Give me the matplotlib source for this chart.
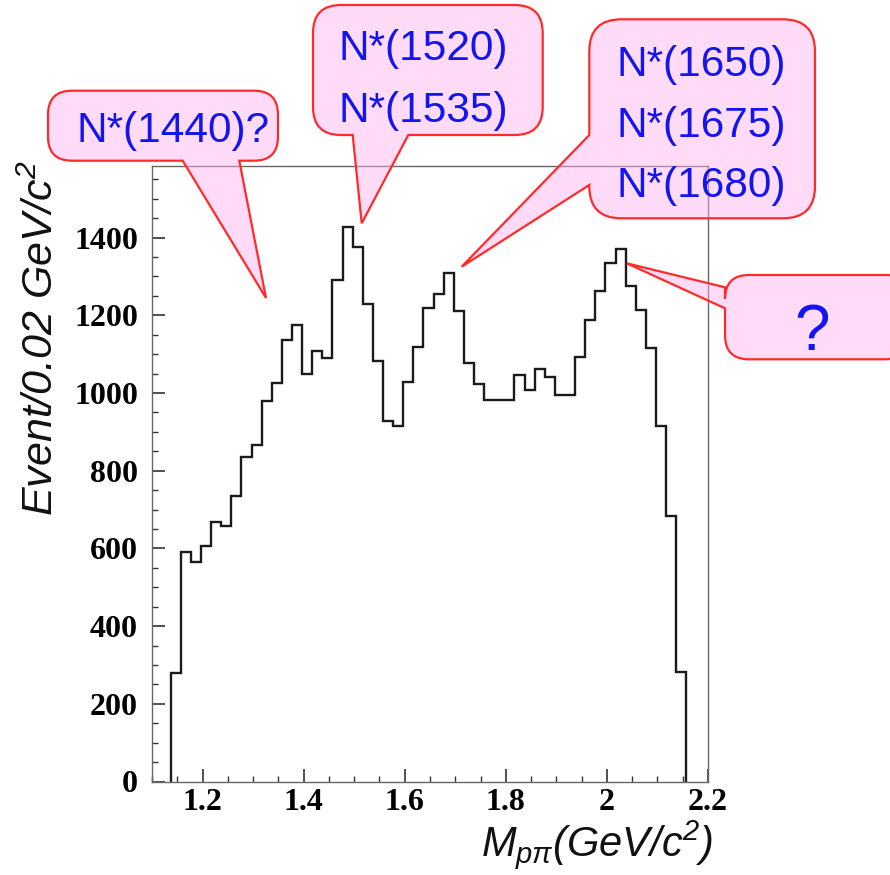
import numpy as np
import matplotlib
matplotlib.use("Agg")
import matplotlib.pyplot as plt
from matplotlib.path import Path
from matplotlib.patches import PathPatch
from matplotlib.ticker import MultipleLocator, FixedLocator, FixedFormatter

# ---- data -------------------------------------------------------------
bin_low = 1.137
bin_width = 0.02
counts = [278, 591, 565, 607, 669, 658, 736, 834, 865, 979,
          1026, 1137, 1174, 1050, 1107, 1091, 1292, 1427, 1375, 1230,
          1082, 928, 916, 1029, 1118, 1220, 1255, 1309, 1211, 1077,
          1023, 982, 982, 982, 1046, 1008, 1061, 1042, 995, 995,
          1093, 1187, 1263, 1335, 1371, 1276, 1214, 1117, 916, 684, 282]

x_ticks = [1.2, 1.4, 1.6, 1.8, 2.0, 2.2]
x_tick_labels = ["1.2", "1.4", "1.6", "1.8", "2", "2.2"]
y_ticks = [0, 200, 400, 600, 800, 1000, 1200, 1400]
y_tick_labels = ["0", "200", "400", "600", "800", "1000", "1200", "1400"]

callout_texts = [
    ["N*(1440)?"],
    ["N*(1520)", "N*(1535)"],
    ["N*(1650)", "N*(1675)", "N*(1680)"],
    ["?"],
]

# ---- figure -----------------------------------------------------------
W, H = 890, 875
plt.rcParams["mathtext.fontset"] = "custom"
plt.rcParams["mathtext.it"] = "Liberation Sans:italic"
plt.rcParams["mathtext.rm"] = "Liberation Sans:italic"
plt.rcParams["mathtext.default"] = "it"

fig = plt.figure(figsize=(W / 100, H / 100), dpi=100)
ax = fig.add_axes([152 / W, 1 - 781.5 / H, (708 - 152) / W, (781.5 - 165.7) / H])

edges = bin_low + bin_width * np.arange(len(counts) + 1)
ax.stairs(counts, edges, baseline=0, color="#1a1a1a", linewidth=1.7)

ax.set_xlim(1.1, 2.2)
ax.set_ylim(0, 1585)

for s in ax.spines.values():
    s.set_color("#666666")
    s.set_linewidth(1.0)

tick_font = dict(family="Liberation Serif", weight="bold", size=23)
ax.xaxis.set_major_locator(FixedLocator(x_ticks))
ax.xaxis.set_major_formatter(FixedFormatter(x_tick_labels))
ax.xaxis.set_minor_locator(MultipleLocator(0.05))
ax.yaxis.set_major_locator(FixedLocator(y_ticks))
ax.yaxis.set_major_formatter(FixedFormatter(y_tick_labels))
ax.yaxis.set_minor_locator(MultipleLocator(50))
ax.tick_params(which="both", direction="in", top=False, right=False,
               color="#333333")
ax.tick_params(which="major", length=9.5, width=1.2)
ax.tick_params(which="minor", length=4.5, width=1.0)
ax.tick_params(axis="x", which="major", pad=4.5)
ax.tick_params(axis="y", which="major", pad=10)
for lab in ax.get_xticklabels() + ax.get_yticklabels():
    lab.set_fontfamily(tick_font["family"])
    lab.set_fontweight(tick_font["weight"])
    lab.set_fontsize(tick_font["size"])

# axis titles
label_font = dict(family="Liberation Sans", style="italic", color="#111111")
fig.text(713 / W, 1 - 856 / H, r"$M_{p\pi}$(GeV/c$^{2}$)", ha="right",
         va="baseline", size=30, **label_font)
fig.text(42 / W, 1 - 160 / H, r"Event/0.02 GeV/c$^{2}$", rotation=90,
         ha="center", va="top", size=31, **label_font)


# ---- speech-bubble annotations (pixel geometry, y measured downwards) --
def bubble_path(x0, y0, x1, y1, r, side, base, tip):
    verts, codes = [], []

    def add(p, c):
        verts.append(p)
        codes.append(c)

    def corner(c, p):
        add(c, Path.CURVE3)
        add(p, Path.CURVE3)

    add((x0 + r, y0), Path.MOVETO)
    add((x1 - r, y0), Path.LINETO)
    corner((x1, y0), (x1, y0 + r))
    add((x1, y1 - r), Path.LINETO)
    corner((x1, y1), (x1 - r, y1))
    if side == "bottom":
        b1, b2 = base
        add((b2, y1), Path.LINETO)
        add(tip, Path.LINETO)
        add((b1, y1), Path.LINETO)
    add((x0 + r, y1), Path.LINETO)
    corner((x0, y1), (x0, y1 - r))
    if side == "left":
        a1, a2 = base
        add((x0, a2), Path.LINETO)
        add(tip, Path.LINETO)
        add((x0, a1), Path.LINETO)
    add((x0, y0 + r), Path.LINETO)
    corner((x0, y0), (x0 + r, y0))
    add((x0 + r, y0), Path.CLOSEPOLY)
    verts = [(x / W, 1 - y / H) for x, y in verts]
    return Path(verts, codes)


bubbles = [
    dict(box=(48, 90.7, 278, 160.7), r=24, side="bottom",
         base=(182.7, 239.3), tip=(266, 298)),
    dict(box=(313, 5, 542.7, 135), r=28, side="bottom",
         base=(352.7, 408.3), tip=(361.7, 223.3)),
    dict(box=(589.3, 19.3, 815, 218.3), r=32, side="left",
         base=(135, 185), tip=(461.7, 266.7)),
    dict(box=(725, 275, 910, 359.3), r=24, side="left",
         base=(287.3, 308.3), tip=(626.7, 263.3)),
]
for b in bubbles:
    x0, y0, x1, y1 = b["box"]
    path = bubble_path(x0, y0, x1, y1, b["r"], b["side"], b["base"], b["tip"])
    fig.add_artist(PathPatch(path, transform=fig.transFigure,
                             facecolor="#ffb0f0", alpha=0.45,
                             edgecolor="none", zorder=5))
    fig.add_artist(PathPatch(path, transform=fig.transFigure,
                             facecolor="none", edgecolor="#ff2a2a",
                             linewidth=1.6, zorder=6))

text_style = dict(family="Liberation Sans", color="#1414f0", zorder=7)
text_pos = [
    (76, [141.7]),
    (339, [60, 121.7]),
    (617, [76, 136.7, 197.3]),
]
for (x, ys), lines in zip(text_pos, callout_texts[:3]):
    for y, s in zip(ys, lines):
        fig.text(x / W, 1 - y / H, s, ha="left", va="baseline", size=30.5,
                 **text_style)
fig.text(811.7 / W, 1 - 350 / H, callout_texts[3][0], ha="center",
         va="baseline", size=46, **text_style)

fig.savefig("out.png", dpi=100)
